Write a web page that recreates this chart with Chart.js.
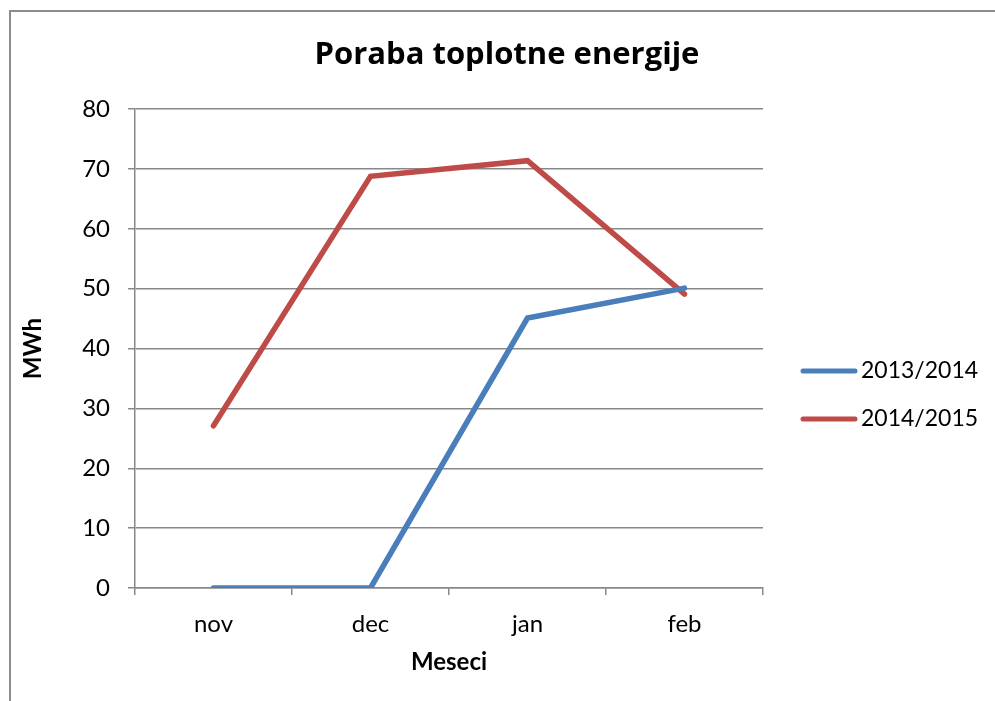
<!DOCTYPE html>
<html>
<head>
<meta charset="utf-8">
<script src="https://cdn.jsdelivr.net/npm/chart.js@4/dist/chart.umd.min.js"></script>
<style>
  html, body { margin: 0; padding: 0; background: #fff; overflow: hidden; }
  #frame { position: absolute; left: 9px; top: 10px; width: 1000px; height: 700px; border: 2px solid #8c8c8c; }
  #wrap { position: absolute; left: 0; top: 0; width: 995px; height: 701px; }
</style>
</head>
<body>
<div id="frame"></div>
<div id="wrap"><canvas id="lineChart" width="995" height="701"></canvas></div>
<script>
// chart values
const months = ['nov', 'dec', 'jan', 'feb'];
const season1 = [0, 0, 45.1, 50.1];
const season2 = [27.1, 68.8, 71.4, 49.1];
const seriesNames = ['2013/2014', '2014/2015'];

const FONT = 'Lato, "Open Sans", sans-serif';
const TITLE_FONT = '"Open Sans", Lato, sans-serif';
const GRID = '#888888';

// simple legend drawn to the right of the plot, like the Excel one
const sideLegend = {
  id: 'sideLegend',
  afterDraw(chart) {
    const ctx = chart.ctx;
    const rows = [371, 419];
    ctx.save();
    chart.data.datasets.forEach((ds, i) => {
      const y = rows[i];
      ctx.strokeStyle = ds.borderColor;
      ctx.lineWidth = 5;
      ctx.lineCap = 'round';
      ctx.beginPath();
      ctx.moveTo(803, y);
      ctx.lineTo(855, y);
      ctx.stroke();
      ctx.fillStyle = '#000';
      ctx.font = '23px ' + FONT;
      ctx.textBaseline = 'middle';
      ctx.textAlign = 'left';
      ctx.fillText(ds.label, 861, y);
    });
    ctx.restore();
  }
};

const ctx = document.getElementById('lineChart').getContext('2d');
new Chart(ctx, {
  type: 'line',
  data: {
    labels: months,
    datasets: [
      {
        label: seriesNames[0],
        data: season1,
        borderColor: '#4a7ebb',
        borderWidth: 5.5,
        pointRadius: 0,
        tension: 0,
        borderCapStyle: 'round',
        borderJoinStyle: 'miter'
      },
      {
        label: seriesNames[1],
        data: season2,
        borderColor: '#be4b48',
        borderWidth: 5.5,
        pointRadius: 0,
        tension: 0,
        borderCapStyle: 'round',
        borderJoinStyle: 'miter'
      }
    ]
  },
  options: {
    responsive: false,
    animation: false,
    layout: { padding: { left: 19, right: 0, top: 10, bottom: 0 } },
    plugins: {
      legend: { display: false },
      tooltip: { enabled: false },
      title: {
        display: true,
        text: 'Poraba toplotne energije',
        color: '#000',
        font: { family: TITLE_FONT, size: 31, weight: 'bold' },
        padding: { top: 27, bottom: 35 }
      }
    },
    scales: {
      x: {
        offset: true,
        grid: { offset: true, drawOnChartArea: false, color: GRID, lineWidth: 1.5, tickLength: 7 },
        border: { color: GRID, width: 1.5 },
        ticks: { color: '#000', font: { family: FONT, size: 24 }, padding: 15 },
        title: {
          display: true,
          text: 'Meseci',
          color: '#000',
          font: { family: FONT, size: 24, weight: 'bold' },
          padding: { top: 8, bottom: 24 }
        },
        afterFit(scale) { scale.height = 113; }
      },
      y: {
        min: 0,
        max: 80,
        ticks: { stepSize: 10, color: '#000', font: { family: FONT, size: 24 }, padding: 18 },
        grid: { color: GRID, lineWidth: 1.5, tickLength: 7 },
        border: { color: GRID, width: 1.5 },
        title: {
          display: true,
          text: 'MWh',
          color: '#000',
          font: { family: FONT, size: 24, weight: 'bold' },
          padding: { top: 0, bottom: 0 }
        },
        afterFit(scale) { scale.width = 116; }
      },
      // empty right-hand axis that keeps room for the legend
      side: {
        position: 'right',
        display: true,
        grid: { drawOnChartArea: false, drawTicks: false },
        border: { display: false },
        ticks: { display: false },
        afterFit(scale) { scale.width = 232; }
      }
    }
  },
  plugins: [sideLegend]
});
</script>
</body>
</html>
